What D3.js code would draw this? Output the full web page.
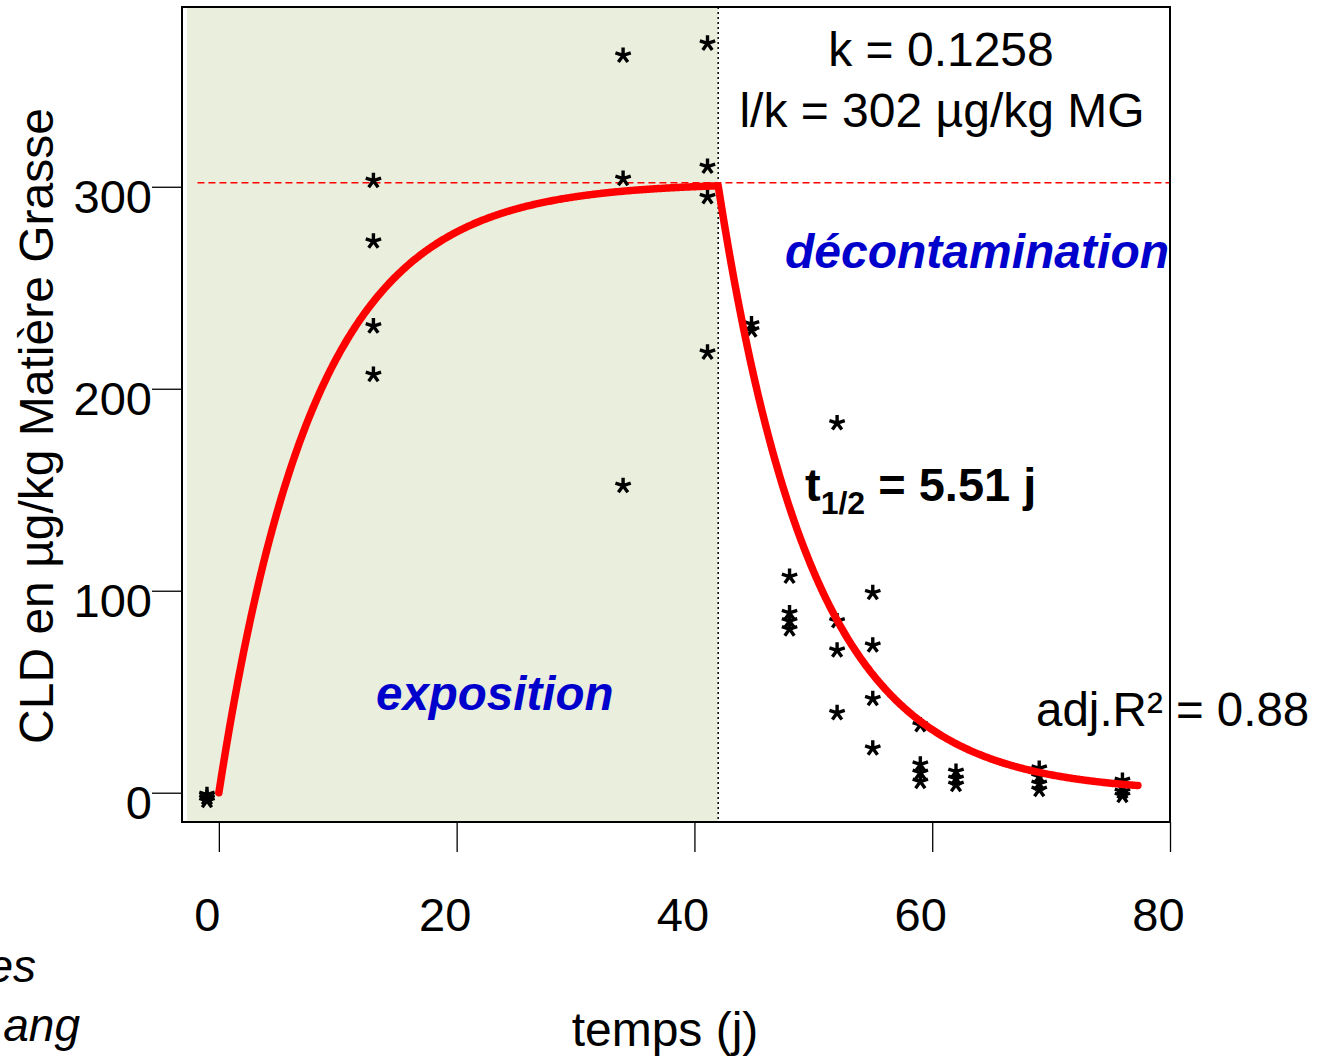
<!DOCTYPE html>
<html>
<head>
<meta charset="utf-8">
<script src="https://cdn.jsdelivr.net/npm/d3@7/dist/d3.min.js"></script>
<style>
  body { margin: 0; background: #fff; }
  text { font-family: "Liberation Sans", Arial, sans-serif; fill: #000; }
</style>
</head>
<body>
<svg id="chart" width="1324" height="1058"></svg>
<script>
// jours de prélèvement / concentrations (µg/kg MG)
const dayExpo  = [-1, -1, -1, 13, 13, 13, 13, 34, 34, 34, 41.1, 41.1, 41.1, 41.1];
const concExpo = [-1, -2.5, -4, 303, 273, 231, 207, 365, 304, 152, 371, 310, 295, 218];

const dayDecon  = [44.8, 44.8, 48, 48, 48, 48, 52, 52, 52, 52, 55, 55, 55, 55,
                   59, 59, 59, 59, 62, 62, 62, 69, 69, 69, 69, 76, 76, 76, 76];
const concDecon = [232, 229, 107, 89, 85, 81, 183, 85, 70.5, 39.5, 99, 73, 46.5, 22,
                   33.5, 14, 10, 5.5, 10.5, 7, 4, 12, 8, 4.5, 1.5, 6, 3, 0.5, -1.5];

const xTicks = [0, 20, 40, 60, 80];
const yTicks = [0, 100, 200, 300];

// paramètres du modèle ajusté
const kRate = 0.1258;     // k
const plateau = 302;      // l/k
const tEnd = 42;          // fin d'exposition
const tHalf = 5.51;       // demi-vie
const tLast = 77.3;

const svg = d3.select('#chart');
const pLeft = 182, pRight = 1170, pTop = 7, pBottom = 822;

const x = d3.scaleLinear().domain([-3.1, 80]).range([pLeft, pRight]);
const y = d3.scaleLinear().domain([-14.5, 389]).range([pBottom, pTop]);

// zone d'exposition
svg.append('rect')
    .attr('x', pLeft + 5)
    .attr('y', pTop)
    .attr('width', x(tEnd) - pLeft - 5)
    .attr('height', pBottom - pTop)
    .attr('fill', '#eaeedd');

// plateau l/k
svg.append('line')
    .attr('x1', x(-1.8)).attr('x2', pRight)
    .attr('y1', y(plateau)).attr('y2', y(plateau))
    .attr('stroke', '#ff0000')
    .attr('stroke-width', 1.6)
    .attr('stroke-dasharray', '7,4');

// fin d'exposition
svg.append('line')
    .attr('x1', x(tEnd)).attr('x2', x(tEnd))
    .attr('y1', pTop).attr('y2', pBottom)
    .attr('stroke', '#000')
    .attr('stroke-width', 1.5)
    .attr('stroke-dasharray', '2,3');

// points (astérisques à 5 branches)
const asterisk = {
    draw(ctx, size) {
        const r = Math.sqrt(size) / 2;
        for (let i = 0; i < 5; i++) {
            const a = -Math.PI / 2 + i * 2 * Math.PI / 5;
            ctx.moveTo(0, 0);
            ctx.lineTo(r * Math.cos(a), r * Math.sin(a));
        }
    }
};
const pts = dayExpo.map((d, i) => ({t: d, c: concExpo[i]}))
    .concat(dayDecon.map((d, i) => ({t: d, c: concDecon[i]})));

svg.append('g').selectAll('path')
    .data(pts)
    .enter()
    .append('path')
    .attr('transform', d => `translate(${x(d.t)},${y(d.c)})`)
    .attr('d', d3.symbol().type(asterisk).size(260))
    .attr('fill', 'none')
    .attr('stroke', '#000')
    .attr('stroke-width', 3.4);

// courbe du modèle
const kDep = Math.log(2) / tHalf;
const cEnd = plateau * (1 - Math.exp(-kRate * tEnd));
const model = t => t <= tEnd
    ? plateau * (1 - Math.exp(-kRate * t))
    : cEnd * Math.exp(-kDep * (t - tEnd));
const tGrid = d3.range(0, tLast + 0.001, 0.1);
svg.append('path')
    .datum(tGrid)
    .attr('d', d3.line().x(t => x(t)).y(t => y(model(t))))
    .attr('fill', 'none')
    .attr('stroke', '#ff0000')
    .attr('stroke-width', 7.5)
    .attr('stroke-linejoin', 'round')
    .attr('stroke-linecap', 'round');

// cadre
svg.append('rect')
    .attr('x', pLeft).attr('y', pTop)
    .attr('width', pRight - pLeft).attr('height', pBottom - pTop)
    .attr('fill', 'none')
    .attr('stroke', '#000')
    .attr('stroke-width', 2);

// axes
const xAxis = svg.append('g')
    .attr('transform', `translate(0,${pBottom})`)
    .call(d3.axisBottom(x).tickValues(xTicks).tickSize(30).tickPadding(46));
xAxis.select('.domain').remove();
xAxis.selectAll('line').attr('stroke-width', 1.3);
xAxis.selectAll('text')
    .attr('dx', -12)
    .style('font-size', '47px')
    .style('font-family', '"Liberation Sans", Arial, sans-serif');

const yAxis = svg.append('g')
    .attr('transform', `translate(${pLeft},0)`)
    .call(d3.axisLeft(y).tickValues(yTicks).tickSize(30).tickPadding(0));
yAxis.select('.domain').remove();
yAxis.selectAll('line').attr('stroke-width', 1.3);
yAxis.selectAll('text')
    .attr('dy', '0.55em')
    .style('font-size', '47px')
    .style('font-family', '"Liberation Sans", Arial, sans-serif');

// titres
svg.append('text')
    .attr('x', 665).attr('y', 1046)
    .attr('text-anchor', 'middle')
    .style('font-size', '48px')
    .text('temps (j)');

svg.append('text')
    .attr('transform', 'translate(53,426) rotate(-90)')
    .attr('text-anchor', 'middle')
    .style('font-size', '48px')
    .text('CLD en µg/kg Matière Grasse');

// annotations
svg.append('text')
    .attr('x', 941).attr('y', 66)
    .attr('text-anchor', 'middle')
    .style('font-size', '48px')
    .text('k = ' + kRate);

svg.append('text')
    .attr('x', 942).attr('y', 127)
    .attr('text-anchor', 'middle')
    .style('font-size', '48px')
    .text('l/k = ' + plateau + ' µg/kg MG');

svg.append('text')
    .attr('x', 785).attr('y', 268)
    .style('font-size', '48px')
    .style('font-weight', 'bold')
    .style('font-style', 'italic')
    .style('fill', '#0000cc')
    .text('décontamination');

svg.append('text')
    .attr('x', 376).attr('y', 710)
    .style('font-size', '47.5px')
    .style('font-weight', 'bold')
    .style('font-style', 'italic')
    .style('fill', '#0000cc')
    .text('exposition');

const th = svg.append('text')
    .attr('x', 805).attr('y', 501)
    .style('font-size', '47px')
    .style('font-weight', 'bold');
th.append('tspan').text('t');
th.append('tspan').attr('dy', 13).style('font-size', '32px').text('1/2');
th.append('tspan').attr('dy', -13).text(' = ' + tHalf + ' j');

svg.append('text')
    .attr('x', 1036).attr('y', 726)
    .style('font-size', '47.5px')
    .text('adj.R² = 0.88');

// restes de texte coupés à gauche (déjà coupés dans l'original)
svg.append('text')
    .attr('x', 36).attr('y', 982)
    .attr('text-anchor', 'end')
    .style('font-size', '46px')
    .style('font-style', 'italic')
    .text('es');
svg.append('text')
    .attr('x', 80).attr('y', 1041)
    .attr('text-anchor', 'end')
    .style('font-size', '46px')
    .style('font-style', 'italic')
    .text('ang');
</script>
</body>
</html>
